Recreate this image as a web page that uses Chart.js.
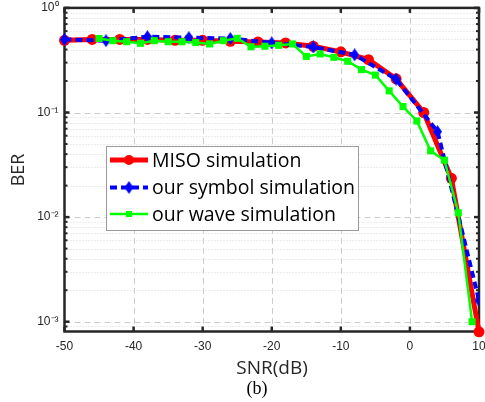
<!DOCTYPE html>
<html>
<head>
<meta charset="utf-8">
<script src="https://cdn.jsdelivr.net/npm/chart.js@4"></script>
<style>
  html, body { margin: 0; padding: 0; background: #ffffff; }
  #c { display: block; }
</style>
</head>
<body>
<canvas id="c" width="485" height="402"></canvas>
<script>
// ---- data ----
const seriesNames = ['MISO simulation', 'our symbol simulation', 'our wave simulation'];

const snrMISO = [-50, -46, -42, -38, -34, -30, -26, -22, -18, -14, -10, -6, -2, 2, 6, 10];
const berMISO = [0.49, 0.50, 0.50, 0.50, 0.49, 0.49, 0.48, 0.473, 0.462, 0.43, 0.38, 0.32, 0.21, 0.10, 0.0235, 0.0008];

const snrSymbol = [-50, -44, -38, -32, -26, -20, -14, -8, -2, 4, 10];
const berSymbol = [0.50, 0.486, 0.53, 0.52, 0.51, 0.463, 0.423, 0.356, 0.208, 0.0656, 0.0016];

const snrWave = [-45, -43, -41, -39, -37, -35, -33, -31, -29, -27, -25, -23, -21, -19,
                 -17, -15, -13, -11, -9, -7, -5, -3, -1, 1, 3, 5, 7, 9];
const berWave = [0.51, 0.486, 0.475, 0.459, 0.486, 0.475, 0.475, 0.466, 0.452, 0.486, 0.512, 0.425, 0.43, 0.439,
                 0.452, 0.344, 0.363, 0.337, 0.309, 0.257, 0.228, 0.161, 0.114, 0.083, 0.043, 0.035, 0.011, 0.001];

const xTickValues = [-50, -40, -30, -20, -10, 0, 10];
const yTickValues = [0.001, 0.01, 0.1, 1];
const yTickLabels = ['10\u207B\u00B3', '10\u207B\u00B2', '10\u207B\u00B9', '10\u2070'];

const xTitle = 'SNR(dB)';
const yTitle = 'BER';
const caption = '(b)';

// ---- styles ----
function diamondCanvas(w, h, color) {
  const cv = document.createElement('canvas');
  cv.width = w; cv.height = h;
  const g = cv.getContext('2d');
  g.fillStyle = color;
  g.beginPath();
  g.moveTo(w / 2, 0); g.lineTo(w, h / 2); g.lineTo(w / 2, h); g.lineTo(0, h / 2);
  g.closePath(); g.fill();
  return cv;
}
const blueDiamond = diamondCanvas(9, 13, '#0000ff');

function pts(xs, ys) { return xs.map((x, i) => ({ x: x, y: ys[i] })); }

const datasets = [
  {
    label: seriesNames[0], data: pts(snrMISO, berMISO),
    borderColor: '#ff0000', backgroundColor: '#ff0000', borderWidth: 5,
    pointStyle: 'circle', pointRadius: 5.5, pointBorderWidth: 0,
    order: 2, clip: false, tension: 0
  },
  {
    label: seriesNames[1], data: pts(snrSymbol, berSymbol),
    borderColor: '#0000ff', backgroundColor: '#0000ff', borderWidth: 4, borderDash: [7, 4],
    pointStyle: blueDiamond, pointRadius: 6, pointBorderWidth: 0,
    order: 1, clip: { left: 10, top: 10, right: 0, bottom: 10 }, tension: 0
  },
  {
    label: seriesNames[2], data: pts(snrWave, berWave),
    borderColor: '#00ff00', backgroundColor: '#00ff00', borderWidth: 2.5,
    pointStyle: 'rect', pointRadius: 5, pointBorderWidth: 0,
    order: 0, clip: false, tension: 0
  }
];

const AXIS = '#262626';

const matlabPlugin = {
  id: 'matlabLook',
  beforeDatasetsDraw(chart) {
    const { ctx, chartArea: a, scales: { x, y } } = chart;
    ctx.save();
    // minor dotted grid on y
    ctx.lineWidth = 1;
    ctx.strokeStyle = '#d9d9d9';
    ctx.setLineDash([1, 2]);
    for (let e = -4; e < 0; e++) {
      for (let m = 2; m <= 9; m++) {
        const v = m * Math.pow(10, e);
        if (v <= y.min || v >= y.max) continue;
        const py = Math.round(y.getPixelForValue(v)) + 0.5;
        ctx.beginPath(); ctx.moveTo(a.left, py); ctx.lineTo(a.right, py); ctx.stroke();
      }
    }
    // major dashed grid
    ctx.strokeStyle = '#cccccc';
    ctx.setLineDash([6, 4]);
    yTickValues.forEach(v => {
      if (v <= y.min || v >= y.max) return;
      const py = Math.round(y.getPixelForValue(v)) + 0.5;
      ctx.beginPath(); ctx.moveTo(a.left, py); ctx.lineTo(a.right, py); ctx.stroke();
    });
    xTickValues.forEach(v => {
      if (v <= x.min || v >= x.max) return;
      const px = Math.round(x.getPixelForValue(v)) + 0.5;
      ctx.beginPath(); ctx.moveTo(px, a.top); ctx.lineTo(px, a.bottom); ctx.stroke();
    });
    ctx.setLineDash([]);
    // tick marks
    ctx.strokeStyle = AXIS;
    ctx.lineWidth = 2.5;
    xTickValues.forEach(v => {
      const px = x.getPixelForValue(v);
      ctx.beginPath(); ctx.moveTo(px, a.bottom); ctx.lineTo(px, a.bottom - 5); ctx.stroke();
      ctx.beginPath(); ctx.moveTo(px, a.top); ctx.lineTo(px, a.top + 5); ctx.stroke();
    });
    for (let e = -4; e <= 0; e++) {
      for (let m = 1; m <= 9; m++) {
        const v = m * Math.pow(10, e);
        if (v < y.min || v > y.max) continue;
        const py = y.getPixelForValue(v);
        const len = m === 1 ? 5 : 3;
        ctx.lineWidth = m === 1 ? 2.5 : 2;
        ctx.beginPath(); ctx.moveTo(a.left, py); ctx.lineTo(a.left + len, py); ctx.stroke();
        ctx.beginPath(); ctx.moveTo(a.right, py); ctx.lineTo(a.right - len, py); ctx.stroke();
      }
    }
    // axes box
    ctx.lineWidth = 2.5;
    ctx.strokeStyle = AXIS;
    ctx.strokeRect(a.left, a.top, a.right - a.left, a.bottom - a.top);
    ctx.restore();
  },
  afterDatasetsDraw(chart) {
    const { ctx } = chart;
    ctx.save();
    // legend box
    const bx = 106, by = 146, bw = 252, bh = 84;
    ctx.fillStyle = '#ffffff';
    ctx.fillRect(bx, by, bw, bh);
    ctx.strokeStyle = '#9a9a9a';
    ctx.lineWidth = 1;
    ctx.strokeRect(bx + 0.5, by + 0.5, bw, bh);
    const rows = [160, 187.5, 214];
    const x0 = 110, x1 = 148;
    chart.data.datasets.forEach((ds, i) => {
      const yy = rows[i];
      ctx.strokeStyle = ds.borderColor;
      ctx.lineWidth = ds.borderWidth;
      ctx.setLineDash(ds.borderDash || []);
      ctx.beginPath(); ctx.moveTo(x0, yy); ctx.lineTo(x1, yy); ctx.stroke();
      ctx.setLineDash([]);
      const mx = (x0 + x1) / 2;
      ctx.fillStyle = ds.backgroundColor;
      if (ds.pointStyle === 'circle') {
        ctx.beginPath(); ctx.arc(mx, yy, 5, 0, Math.PI * 2); ctx.fill();
      } else if (ds.pointStyle === 'rect') {
        ctx.fillRect(mx - 3, yy - 3, 6, 6);
      } else {
        ctx.drawImage(ds.pointStyle, mx - ds.pointStyle.width / 2, yy - ds.pointStyle.height / 2);
      }
      ctx.fillStyle = '#000000';
      ctx.font = '19.5px "Open Sans", sans-serif';
      ctx.textAlign = 'left';
      ctx.textBaseline = 'middle';
      ctx.fillText(ds.label, 152, yy + 1);
    });
    ctx.restore();
  },
  afterDraw(chart) {
    const { ctx } = chart;
    ctx.save();
    ctx.fillStyle = '#262626';
    ctx.textAlign = 'center';
    ctx.textBaseline = 'middle';
    ctx.font = '19px "Open Sans", sans-serif';
    ctx.fillText(xTitle, 272, 369);
    ctx.save();
    ctx.translate(19, 170);
    ctx.rotate(-Math.PI / 2);
    ctx.font = '18px "Open Sans", sans-serif';
    ctx.fillText(yTitle, 0, 0);
    ctx.restore();
    ctx.fillStyle = '#000000';
    ctx.font = '18px "Liberation Serif", serif';
    ctx.fillText(caption, 257, 389);
    ctx.restore();
  }
};

new Chart(document.getElementById('c'), {
  type: 'line',
  data: { datasets: datasets },
  options: {
    responsive: false,
    animation: false,
    devicePixelRatio: 1,
    layout: { padding: { top: 7.9, right: 4.7, left: 0, bottom: 0 } },
    plugins: { legend: { display: false }, tooltip: { enabled: false } },
    scales: {
      x: {
        type: 'linear', min: -50, max: 10,
        grid: { display: false, drawTicks: false },
        border: { display: false },
        ticks: {
          stepSize: 10, padding: 8, color: AXIS, maxRotation: 0, autoSkip: false,
          font: { family: '"Liberation Sans", Arial, sans-serif', size: 12 }
        },
        afterBuildTicks: s => { s.ticks = xTickValues.map(v => ({ value: v })); },
        afterFit: s => { s.height = 70.5; s.paddingLeft = 0; s.paddingRight = 0; }
      },
      y: {
        type: 'logarithmic', min: 0.000806, max: 1,
        grid: { display: false, drawTicks: false },
        border: { display: false },
        ticks: {
          padding: 6, color: AXIS, autoSkip: false,
          font: { family: '"Liberation Sans", Arial, sans-serif', size: 12 },
          callback: (v) => {
            const i = yTickValues.findIndex(t => Math.abs(t - v) / t < 1e-6);
            return i >= 0 ? yTickLabels[i] : '';
          }
        },
        afterBuildTicks: s => { s.ticks = yTickValues.map(v => ({ value: v })); },
        afterFit: s => { s.width = 64.5; s.paddingTop = 0; s.paddingBottom = 0; }
      }
    }
  },
  plugins: [matlabPlugin]
});
</script>
</body>
</html>
